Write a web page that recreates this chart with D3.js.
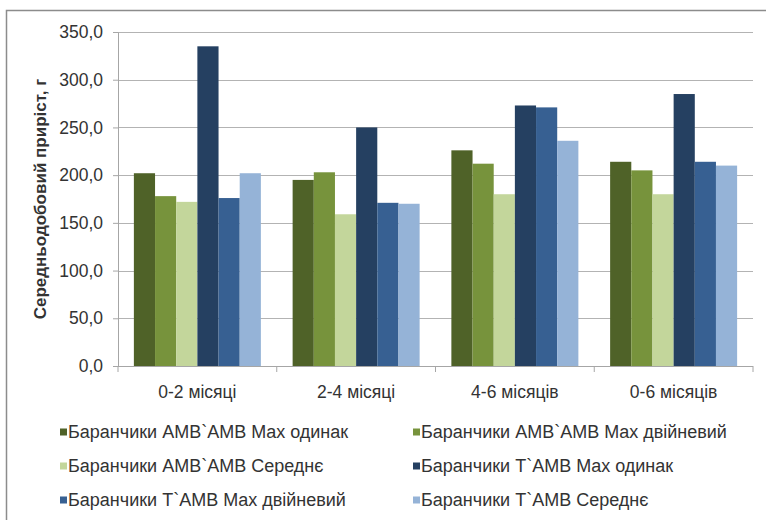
<!DOCTYPE html>
<html>
<head>
<meta charset="utf-8">
<script src="https://cdn.jsdelivr.net/npm/d3@7"></script>
<style>
  body { margin: 0; background: #fff; }
  svg { font-family: "Liberation Sans", Arial, sans-serif; }
</style>
</head>
<body>
<svg id="chart" width="766" height="520"></svg>
<script>
// categories and series
let categories = ["0-2 місяці", "2-4 місяці", "4-6 місяців", "0-6 місяців"];
let seriesNames = [
    "Баранчики AMB`AMB Max одинак",
    "Баранчики AMB`AMB Max двійневий",
    "Баранчики AMB`AMB Середнє",
    "Баранчики T`AMB Max одинак",
    "Баранчики T`AMB Max двійневий",
    "Баранчики T`AMB Середнє"
];
let seriesColors = ["#4f6228", "#77933c", "#c3d69b", "#254061", "#376092", "#95b3d7"];
let values = [
    [202, 178, 172, 335, 176, 202],
    [195, 203, 159, 250, 171, 170],
    [226, 212, 180, 273, 271, 236],
    [214, 205, 180, 285, 214, 210]
];
let yTicks = [0, 50, 100, 150, 200, 250, 300, 350];

let svg = d3.select("#chart");

let plotLeft = 118, plotRight = 753, plotTop = 32, plotBottom = 366;

// outer chart border (chart is cropped on right/bottom)
svg.append("rect")
    .attr("x", 6.5).attr("y", 10.5)
    .attr("width", 800).attr("height", 600)
    .attr("fill", "none")
    .attr("stroke", "#8c8c8c")
    .attr("stroke-width", 1.5);

let x0 = d3.scaleBand()
    .domain(categories)
    .range([plotLeft, plotRight])
    .paddingInner(0.2)
    .paddingOuter(0.1);

let x1 = d3.scaleBand()
    .domain(d3.range(seriesNames.length))
    .range([0, x0.bandwidth()]);

let y = d3.scaleLinear().domain([0, 350]).range([plotBottom, plotTop]);

// gridlines
svg.append("g")
    .selectAll("line")
    .data(yTicks.filter(d => d > 0))
    .join("line")
    .attr("x1", plotLeft).attr("x2", plotRight)
    .attr("y1", d => Math.round(y(d)) + 0.5)
    .attr("y2", d => Math.round(y(d)) + 0.5)
    .attr("stroke", "#b3b3b3")
    .attr("stroke-width", 1.2);

// y axis
let yAxis = d3.axisLeft(y)
    .tickValues(yTicks)
    .tickSize(5)
    .tickPadding(10)
    .tickFormat(d => d3.format(".1f")(d).replace(".", ","));

let gy = svg.append("g")
    .attr("transform", "translate(" + plotLeft + ",0)")
    .call(yAxis);
gy.select(".domain").attr("stroke", "#a6a6a6");
gy.selectAll(".tick line").attr("stroke", "#a6a6a6");
gy.selectAll(".tick text")
    .attr("fill", "#333")
    .style("font-size", "17.5px");

// bars
let groups = svg.append("g")
    .selectAll("g")
    .data(values)
    .join("g")
    .attr("transform", (d, i) => "translate(" + x0(categories[i]) + ",0)");

groups.selectAll("rect")
    .data(d => d)
    .join("rect")
    .attr("x", (d, j) => x1(j))
    .attr("width", x1.bandwidth())
    .attr("y", d => y(d))
    .attr("height", d => plotBottom - y(d))
    .attr("fill", (d, j) => seriesColors[j]);

// x axis with ticks between categories
let gx = svg.append("g")
    .attr("transform", "translate(0," + plotBottom + ")");
gx.append("line")
    .attr("x1", plotLeft).attr("x2", plotRight)
    .attr("y1", 0.5).attr("y2", 0.5)
    .attr("stroke", "#a6a6a6");
gx.selectAll(".sep")
    .data(d3.range(categories.length + 1))
    .join("line")
    .attr("class", "sep")
    .attr("x1", i => plotLeft + i * (plotRight - plotLeft) / categories.length)
    .attr("x2", i => plotLeft + i * (plotRight - plotLeft) / categories.length)
    .attr("y1", 0).attr("y2", 6)
    .attr("stroke", "#a6a6a6");
gx.selectAll("text")
    .data(categories)
    .join("text")
    .attr("x", d => x0(d) + x0.bandwidth() / 2)
    .attr("y", 32)
    .attr("text-anchor", "middle")
    .attr("fill", "#333")
    .style("font-size", "17.5px")
    .text(d => d);

// y axis title
svg.append("text")
    .attr("transform", "translate(46," + ((plotTop + plotBottom) / 2) + ") rotate(-90)")
    .attr("text-anchor", "middle")
    .attr("fill", "#333")
    .style("font-size", "17px")
    .style("font-weight", "bold")
    .text("Середньодобовий приріст, г");

// legend
let legendCols = [60, 413];
let legendRows = [432, 466, 500];
let legend = svg.append("g")
    .selectAll("g")
    .data(seriesNames)
    .join("g")
    .attr("transform", (d, i) => "translate(" + legendCols[i % 2] + "," + legendRows[Math.floor(i / 2)] + ")");

legend.append("rect")
    .attr("x", 0).attr("y", -3.5)
    .attr("width", 7).attr("height", 7)
    .attr("fill", (d, i) => seriesColors[i]);

legend.append("text")
    .attr("x", 8)
    .attr("y", 6)
    .attr("fill", "#333")
    .style("font-size", "18px")
    .text(d => d);
</script>
</body>
</html>
